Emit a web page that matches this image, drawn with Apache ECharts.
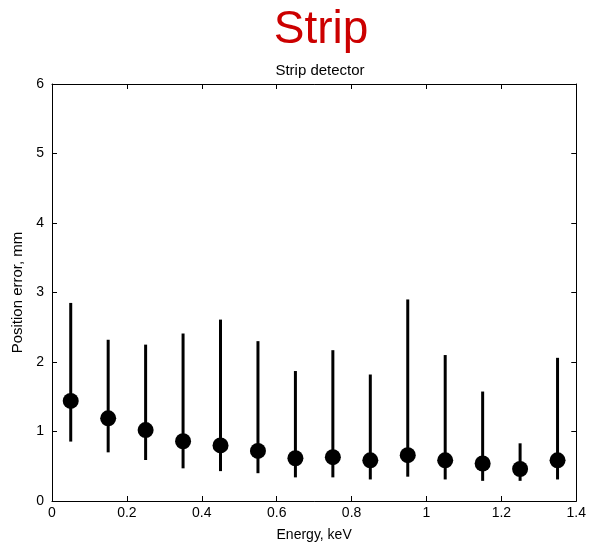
<!DOCTYPE html>
<html>
<head>
<meta charset="utf-8">
<script src="https://cdn.jsdelivr.net/npm/echarts@6/dist/echarts.min.js"></script>
<style>html,body{margin:0;padding:0;background:#fff;}#c{width:589px;height:547px;}</style>
</head>
<body>
<div id="c"></div>
<script>
const energy = [0.05, 0.15, 0.25, 0.35, 0.45, 0.55, 0.65, 0.75, 0.85, 0.95, 1.05, 1.15, 1.25, 1.35];
const meanErr = [1.44, 1.19, 1.02, 0.86, 0.80, 0.72, 0.615, 0.63, 0.585, 0.66, 0.585, 0.54, 0.46, 0.585];
const errHigh = [2.85, 2.32, 2.25, 2.41, 2.61, 2.30, 1.87, 2.17, 1.82, 2.90, 2.10, 1.575, 0.83, 2.06];
const errLow = [0.855, 0.70, 0.59, 0.47, 0.43, 0.40, 0.34, 0.34, 0.31, 0.35, 0.31, 0.29, 0.29, 0.31];

const FONT = 'Liberation Sans, Arial, sans-serif';
const chart = echarts.init(document.getElementById('c'), null, {renderer: 'canvas'});
const axisCommon = {
  axisLine: {show: true, onZero: false, lineStyle: {color: '#000', width: 1}},
  axisTick: {show: true, inside: true, length: 5, lineStyle: {color: '#000'}},
  splitLine: {show: false},
  axisLabel: {color: '#000', fontSize: 14, fontFamily: FONT}
};
chart.setOption({
  animation: false,
  backgroundColor: '#fff',
  title: [
    {text: 'Strip', left: 316, top: 2, textAlign: 'center',
     textStyle: {color: '#cc0000', fontSize: 46, fontWeight: 'normal', fontFamily: FONT}},
    {text: 'Strip detector', left: 315, top: 58, textAlign: 'center',
     textStyle: {color: '#000', fontSize: 15, fontWeight: 'normal', fontFamily: FONT}}
  ],
  grid: {left: 52, right: 10, top: 84, bottom: 46, containLabel: false},
  xAxis: [
    Object.assign({}, axisCommon, {type: 'value', position: 'bottom', min: 0, max: 1.4, interval: 0.2,
      name: 'Energy, keV', nameLocation: 'middle', nameGap: 27,
      nameTextStyle: {color: '#000', fontSize: 14, fontFamily: FONT},
      axisLabel: {color: '#000', fontSize: 14, fontFamily: FONT, margin: 5,
        formatter: v => String(Math.round(v * 10) / 10)}}),
    Object.assign({}, axisCommon, {type: 'value', position: 'top', min: 0, max: 1.4, interval: 0.2,
      axisLabel: {show: false}})
  ],
  yAxis: [
    Object.assign({}, axisCommon, {type: 'value', position: 'left', min: 0, max: 6, interval: 1,
      name: 'Position error, mm', nameLocation: 'middle', nameGap: 26,
      nameTextStyle: {color: '#000', fontSize: 15, fontFamily: FONT},
      axisLabel: {color: '#000', fontSize: 14, fontFamily: FONT, margin: 8}}),
    Object.assign({}, axisCommon, {type: 'value', position: 'right', min: 0, max: 6, interval: 1,
      axisLabel: {show: false}})
  ],
  series: [
    {
      type: 'custom',
      xAxisIndex: 0, yAxisIndex: 0,
      data: energy.map((x, i) => [x, errLow[i], errHigh[i]]),
      renderItem: function (params, api) {
        const lo = api.coord([api.value(0), api.value(1)]);
        const hi = api.coord([api.value(0), api.value(2)]);
        return {type: 'line', shape: {x1: lo[0], y1: lo[1], x2: hi[0], y2: hi[1]},
          style: {stroke: '#000', lineWidth: 3}};
      },
      z: 2
    },
    {
      type: 'scatter',
      xAxisIndex: 0, yAxisIndex: 0,
      data: energy.map((x, i) => [x, meanErr[i]]),
      symbol: 'circle', symbolSize: 16,
      itemStyle: {color: '#000', opacity: 1},
      z: 3
    }
  ]
});
</script>
</body>
</html>
